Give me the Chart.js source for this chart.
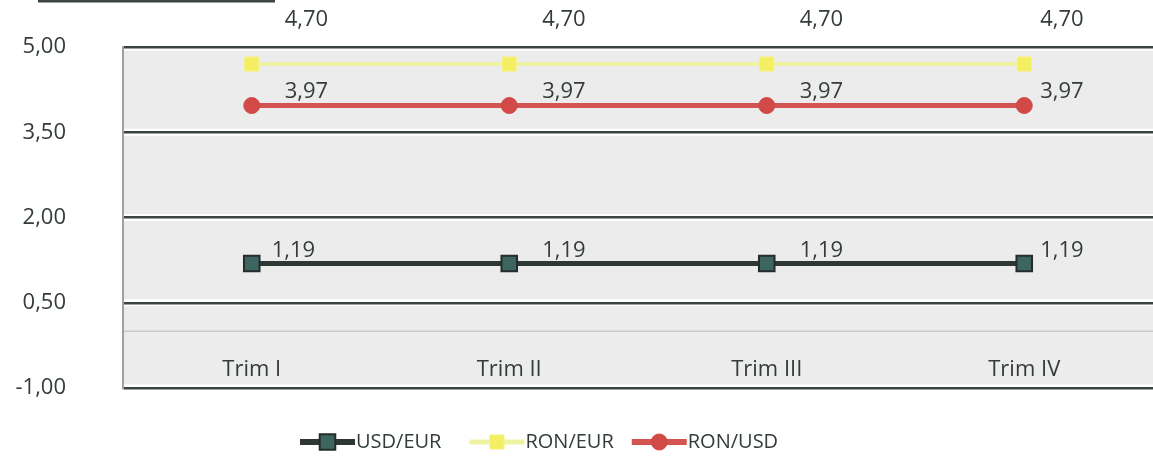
<!DOCTYPE html>
<html>
<head>
<meta charset="utf-8">
<script src="https://cdn.jsdelivr.net/npm/chart.js@4"></script>
<style>
    html, body { margin: 0; padding: 0; background: #fff; overflow: hidden; }
    #wrap { width: 1153px; height: 460px; position: relative; }
</style>
</head>
<body>
<div id="wrap"><canvas id="chart"></canvas></div>
<script>
const categories = ['Trim I', 'Trim II', 'Trim III', 'Trim IV'];
const usdEur = [1.19, 1.19, 1.19, 1.19];
const ronEur = [4.70, 4.70, 4.70, 4.70];
const ronUsd = [3.97, 3.97, 3.97, 3.97];
const seriesNames = ['USD/EUR', 'RON/EUR', 'RON/USD'];
const yMin = -1;
const yMax = 5;
const yStep = 1.5;

const FONT = "'Open Sans', 'Liberation Sans', sans-serif";
const TEXT = '#343b3b';
const fmt = v => v.toFixed(2).replace('.', ',');

// gray plot background, white halos under the gridlines, zero line
const backdrop = {
    id: 'backdrop',
    beforeDraw(chart) {
        const { ctx, chartArea: a, scales: { y } } = chart;
        ctx.save();
        ctx.fillStyle = '#ececec';
        ctx.fillRect(a.left, a.top, a.right - a.left, a.bottom - a.top);
        ctx.strokeStyle = '#ffffff';
        ctx.lineWidth = 7;
        y.ticks.forEach(t => {
            const py = y.getPixelForValue(t.value);
            ctx.beginPath();
            ctx.moveTo(a.left, py);
            ctx.lineTo(a.right, py);
            ctx.stroke();
        });
        const z = y.getPixelForValue(0);
        ctx.strokeStyle = '#c9c9c9';
        ctx.lineWidth = 1.5;
        ctx.beginPath();
        ctx.moveTo(a.left, z);
        ctx.lineTo(a.right, z);
        ctx.stroke();
        // stray rule at the very top (title underline remnant)
        ctx.strokeStyle = '#3c4343';
        ctx.lineWidth = 3;
        ctx.beginPath();
        ctx.moveTo(38, 1);
        ctx.lineTo(275, 1);
        ctx.stroke();
        ctx.restore();
    }
};

// category labels sit inside the plot, below the zero line
const catLabels = {
    id: 'catLabels',
    afterDatasetsDraw(chart) {
        const { ctx, scales: { x, y } } = chart;
        const py = (y.getPixelForValue(0) + y.getPixelForValue(yMin)) / 2 + 10;
        ctx.save();
        ctx.font = '22px ' + FONT;
        ctx.fillStyle = TEXT;
        ctx.textAlign = 'center';
        ctx.textBaseline = 'middle';
        chart.data.labels.forEach((lab, i) => {
            ctx.fillText(lab, x.getPixelForTick(i), py);
        });
        ctx.restore();
    }
};

// value labels up and to the right of each point
const valueLabels = {
    id: 'valueLabels',
    afterDatasetsDraw(chart) {
        const { ctx } = chart;
        const dy = [-13, -44, -14];
        ctx.save();
        ctx.font = '22px ' + FONT;
        ctx.fillStyle = TEXT;
        ctx.textAlign = 'left';
        ctx.textBaseline = 'middle';
        chart.data.datasets.forEach((ds, di) => {
            const meta = chart.getDatasetMeta(di);
            meta.data.forEach((pt, i) => {
                let dx = i === meta.data.length - 1 ? 16 : 33;
                if (di === 0 && i === 0) dx = 20;
                ctx.fillText(fmt(ds.data[i]), pt.x + dx, pt.y + dy[di]);
            });
        });
        ctx.restore();
    }
};

// Excel-like legend: short line with the marker in the middle
const lineLegend = {
    id: 'lineLegend',
    afterDraw(chart) {
        const { ctx } = chart;
        const cy = 442;
        const lineLen = 55;
        const gaps = [28, 18];
        let x = 300;
        ctx.save();
        ctx.font = '20px ' + FONT;
        chart.data.datasets.forEach((ds, i) => {
            ctx.strokeStyle = ds.borderColor;
            ctx.lineWidth = ds.borderWidth + 1;
            ctx.beginPath();
            ctx.moveTo(x, cy);
            ctx.lineTo(x + lineLen, cy);
            ctx.stroke();
            ctx.fillStyle = ds.pointBackgroundColor;
            ctx.strokeStyle = ds.pointBorderColor;
            ctx.lineWidth = ds.pointBorderWidth;
            Chart.helpers.drawPoint(ctx, {
                pointStyle: ds.pointStyle,
                radius: ds.pointRadius,
                borderWidth: ds.pointBorderWidth,
                rotation: 0
            }, x + lineLen / 2, cy);
            ctx.fillStyle = TEXT;
            ctx.textAlign = 'left';
            ctx.textBaseline = 'middle';
            ctx.fillText(ds.label, x + lineLen + 1, cy);
            x += lineLen + 1 + ctx.measureText(ds.label).width + (gaps[i] || 0);
        });
        ctx.restore();
    }
};

new Chart(document.getElementById('chart'), {
    type: 'line',
    data: {
        labels: categories,
        datasets: [
            {
                label: seriesNames[0],
                data: usdEur,
                borderColor: '#2f3735',
                borderWidth: 5,
                pointStyle: 'rect',
                pointRadius: 11,
                pointBackgroundColor: '#3d6660',
                pointBorderColor: '#252c2b',
                pointBorderWidth: 2
            },
            {
                label: seriesNames[1],
                data: ronEur,
                borderColor: '#eff4a4',
                borderWidth: 4,
                pointStyle: 'rect',
                pointRadius: 10,
                pointBackgroundColor: '#f4ef62',
                pointBorderColor: '#f6f288',
                pointBorderWidth: 1
            },
            {
                label: seriesNames[2],
                data: ronUsd,
                borderColor: '#d35451',
                borderWidth: 5,
                pointStyle: 'circle',
                pointRadius: 8,
                pointBackgroundColor: '#d24a48',
                pointBorderColor: '#d24a48',
                pointBorderWidth: 1
            }
        ]
    },
    options: {
        responsive: true,
        maintainAspectRatio: false,
        animation: false,
        layout: { autoPadding: false, padding: { top: 47, right: 0, bottom: 72, left: 0 } },
        plugins: {
            legend: { display: false },
            tooltip: { enabled: false }
        },
        scales: {
            x: {
                display: false,
                offset: true
            },
            y: {
                min: yMin,
                max: yMax,
                afterFit: s => {
                    s.width = 123;
                    s.paddingTop = 0;
                    s.paddingBottom = 0;
                },
                ticks: {
                    stepSize: yStep,
                    padding: 57,
                    color: TEXT,
                    font: { family: FONT, size: 22 },
                    callback: v => fmt(v)
                },
                grid: {
                    color: '#3c4343',
                    lineWidth: 2.5,
                    drawTicks: false
                },
                border: { display: true, color: '#a0a0a0', width: 2 }
            }
        }
    },
    plugins: [backdrop, catLabels, valueLabels, lineLegend]
});
</script>
</body>
</html>
